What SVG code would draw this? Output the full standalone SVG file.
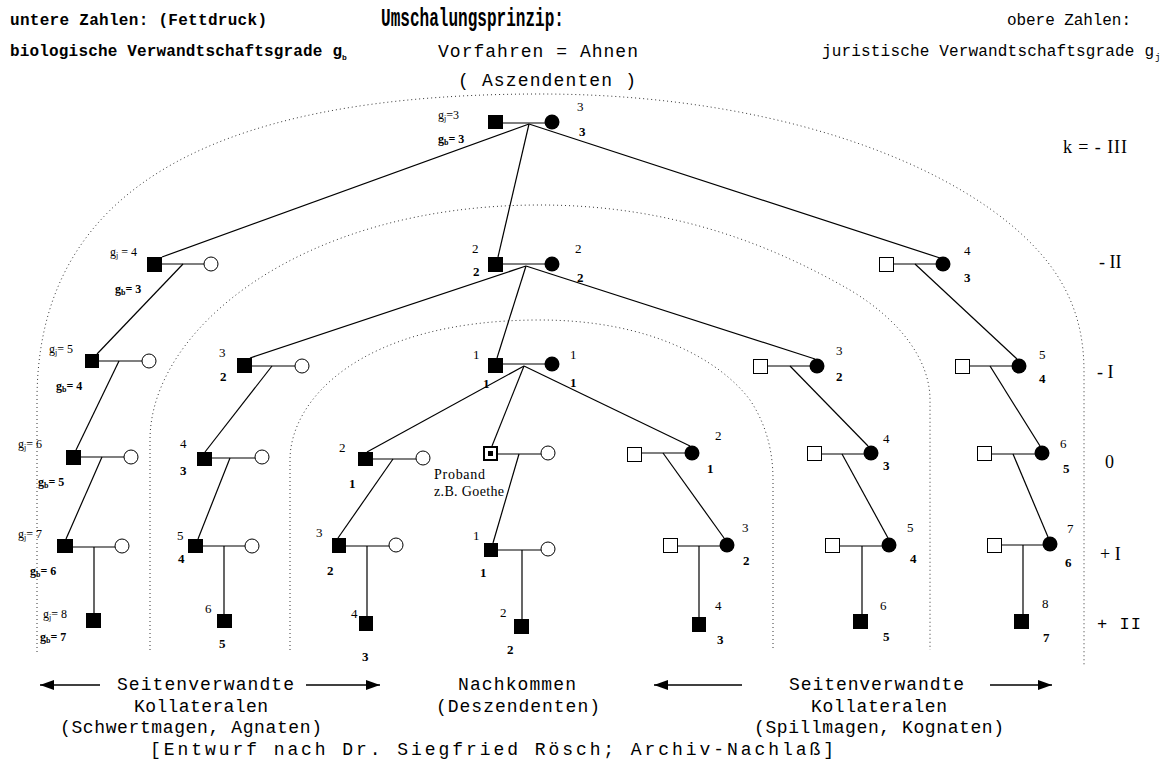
<svg xmlns="http://www.w3.org/2000/svg" width="1168" height="764" viewBox="0 0 1168 764">
<style>
  .ln{stroke:#000;stroke-width:1.2;fill:none}
  .ar{stroke:#000;stroke-width:1.6;fill:none}
  .dot{stroke:#333;stroke-width:1;stroke-dasharray:1 3;fill:none}
  .f{fill:#000}
  .o{fill:#fff;stroke:#000;stroke-width:1}
  .n{font-family:"Liberation Serif","Times New Roman",serif;font-size:13px;fill:#000}
  .g{font-size:12px}
  .b{font-weight:bold}
  .sub{font-size:8px}
  .m{font-family:"Liberation Mono","Courier New",monospace;font-size:16px;fill:#000}
  .mb{font-weight:bold}
  .big{font-size:18px}
  .lv{font-family:"Liberation Serif","Times New Roman",serif;font-size:18px;fill:#000}
</style>
<defs>
  <marker id="head" viewBox="0 0 14 10" refX="14" refY="5" markerWidth="14" markerHeight="10" markerUnits="userSpaceOnUse" orient="auto">
    <path d="M0,0 L14,5 L0,10 z" fill="#000"/>
  </marker>
</defs>
<rect width="1168" height="764" fill="#fff"/>

<!-- header -->
<g id="header">
  <text class="m mb" x="10" y="25" textLength="257">untere Zahlen: (Fettdruck)</text>
  <text class="m mb" x="10" y="56" textLength="332">biologische Verwandtschaftsgrade g</text>
  <text class="m mb" x="342" y="60" style="font-size:8px">b</text>
  <text class="m mb" x="381" y="26" style="font-size:25px" textLength="183" lengthAdjust="spacingAndGlyphs">Umschalungsprinzip:</text>
  <text class="m" x="1007" y="25" textLength="124">obere Zahlen:</text>
  <text class="m" x="822" y="56" textLength="332">juristische Verwandtschaftsgrade g</text>
  <text class="m" x="1155" y="60" style="font-size:9px">j</text>
  <text class="m big" x="438" y="57" textLength="200">Vorfahren = Ahnen</text>
  <text class="m big" x="458" y="86" textLength="178">( Aszendenten )</text>
</g>

<!-- dotted zone boundaries -->
<g id="zones">
  <path class="dot" d="M37,652 V400 C37,230 150,94 540,94 C800,94 1000,180 1060,280 C1078,310 1084,340 1084,372 V667"/>
  <path class="dot" d="M150,650 V440 C150,330 300,205 540,205 C680,205 780,250 850,290 C900,320 930,360 930,400 V650"/>
  <path class="dot" d="M290,650 V460 C290,400 360,320 540,320 C650,320 720,360 750,400 C770,430 773,460 773,480 V650"/>
</g>

<!-- generation labels -->
<g id="levels">
  <text class="lv" x="1063" y="153" textLength="64">k = - III</text>
  <text class="lv" x="1099" y="268">- II</text>
  <text class="lv" x="1097" y="378">- I</text>
  <text class="lv" x="1105" y="468">0</text>
  <text class="lv" x="1100" y="560">+ I</text>
  <text class="m" x="1097" y="629" style="font-size:17px" textLength="44">+ II</text>
</g>

<!-- descent lines -->
<g id="connectors">
  <line class="ln" x1="529" y1="124" x2="162" y2="257"/>
  <line class="ln" x1="529" y1="124" x2="498" y2="257"/>
  <line class="ln" x1="529" y1="124" x2="940" y2="258"/>
  <line class="ln" x1="183" y1="264" x2="97" y2="354"/>
  <line class="ln" x1="526" y1="266" x2="250" y2="358"/>
  <line class="ln" x1="526" y1="266" x2="497" y2="358"/>
  <line class="ln" x1="526" y1="266" x2="815" y2="359"/>
  <line class="ln" x1="915" y1="264" x2="1017" y2="359"/>
  <line class="ln" x1="119" y1="361" x2="76" y2="450"/>
  <line class="ln" x1="272" y1="366" x2="205" y2="452"/>
  <line class="ln" x1="524" y1="366" x2="367" y2="452"/>
  <line class="ln" x1="524" y1="366" x2="492" y2="446"/>
  <line class="ln" x1="524" y1="366" x2="690" y2="446"/>
  <line class="ln" x1="790" y1="366" x2="868" y2="446"/>
  <line class="ln" x1="990" y1="366" x2="1040" y2="446"/>
  <line class="ln" x1="102" y1="457" x2="66" y2="539"/>
  <line class="ln" x1="230" y1="458" x2="198" y2="539"/>
  <line class="ln" x1="393" y1="459" x2="338" y2="538"/>
  <line class="ln" x1="519" y1="454" x2="493" y2="543"/>
  <line class="ln" x1="663" y1="453" x2="724" y2="538"/>
  <line class="ln" x1="842" y1="454" x2="888" y2="538"/>
  <line class="ln" x1="1013" y1="454" x2="1048" y2="537"/>
  <line class="ln" x1="94" y1="547" x2="94" y2="613"/>
  <line class="ln" x1="224" y1="546" x2="224" y2="614"/>
  <line class="ln" x1="367" y1="546" x2="367" y2="616"/>
  <line class="ln" x1="522" y1="550" x2="522" y2="619"/>
  <line class="ln" x1="699" y1="546" x2="699" y2="617"/>
  <line class="ln" x1="862" y1="546" x2="862" y2="614"/>
  <line class="ln" x1="1023" y1="545" x2="1023" y2="614"/>
</g>

<!-- generation -III -->
<g id="n-top">
  <rect class="f" x="488" y="115" width="15" height="14"/>
  <line class="ln" x1="503" y1="123" x2="545" y2="123"/>
  <circle class="f" cx="552" cy="122" r="7.5"/>
  <text class="n g" x="438" y="119">g<tspan class="sub" dy="2">j</tspan><tspan dy="-2">=3</tspan></text>
  <text class="n g b" x="438" y="143">g<tspan class="sub" dy="2">b</tspan><tspan dy="-2">= 3</tspan></text>
  <text class="n" x="577" y="111">3</text>
  <text class="n b" x="579" y="136">3</text>
</g>

<!-- generation -II -->
<g id="n-l2">
  <rect class="f" x="147" y="257" width="15" height="15"/>
  <line class="ln" x1="162" y1="264" x2="204" y2="264"/>
  <circle class="o" cx="211" cy="264" r="7"/>
  <text class="n g" x="110" y="256">g<tspan class="sub" dy="2">j</tspan><tspan dy="-2"> = 4</tspan></text>
  <text class="n g b" x="115" y="293">g<tspan class="sub" dy="2">b</tspan><tspan dy="-2">= 3</tspan></text>
</g>
<g id="n-c2">
  <rect class="f" x="488" y="257" width="15" height="15"/>
  <line class="ln" x1="503" y1="264" x2="545" y2="264"/>
  <circle class="f" cx="552" cy="264" r="7.5"/>
  <text class="n" x="472" y="253">2</text>
  <text class="n b" x="473" y="276">2</text>
  <text class="n" x="575" y="253">2</text>
  <text class="n b" x="577" y="282">2</text>
</g>
<g id="n-r2">
  <rect class="o" x="879.5" y="257.5" width="14" height="14"/>
  <line class="ln" x1="894" y1="264" x2="936" y2="264"/>
  <circle class="f" cx="943" cy="264" r="7.5"/>
  <text class="n" x="964" y="255">4</text>
  <text class="n b" x="964" y="282">3</text>
</g>

<!-- generation -I -->
<g id="n-a1">
  <rect class="f" x="85" y="354" width="14" height="14"/>
  <line class="ln" x1="99" y1="361" x2="142" y2="361"/>
  <circle class="o" cx="149" cy="361" r="7"/>
  <text class="n g" x="49" y="353">g<tspan class="sub" dy="2">j</tspan><tspan dy="-2">= 5</tspan></text>
  <text class="n g b" x="56" y="390">g<tspan class="sub" dy="2">b</tspan><tspan dy="-2">= 4</tspan></text>
</g>
<g id="n-b1">
  <rect class="f" x="237" y="358" width="15" height="15"/>
  <line class="ln" x1="252" y1="366" x2="295" y2="366"/>
  <circle class="o" cx="302" cy="366" r="7"/>
  <text class="n" x="219" y="357">3</text>
  <text class="n b" x="220" y="381">2</text>
</g>
<g id="n-c1">
  <rect class="f" x="488" y="358" width="15" height="15"/>
  <line class="ln" x1="503" y1="364" x2="545" y2="364"/>
  <circle class="f" cx="552" cy="364" r="7.5"/>
  <text class="n" x="473" y="359">1</text>
  <text class="n" x="570" y="359">1</text>
  <text class="n b" x="483" y="388">1</text>
  <text class="n b" x="570" y="387">1</text>
</g>
<g id="n-d1">
  <rect class="o" x="753.5" y="359.5" width="14" height="14"/>
  <line class="ln" x1="768" y1="366" x2="810" y2="366"/>
  <circle class="f" cx="817" cy="366" r="7.5"/>
  <text class="n" x="836" y="355">3</text>
  <text class="n b" x="836" y="381">2</text>
</g>
<g id="n-e1">
  <rect class="o" x="955.5" y="359.5" width="14" height="14"/>
  <line class="ln" x1="970" y1="366" x2="1012" y2="366"/>
  <circle class="f" cx="1019" cy="366" r="7.5"/>
  <text class="n" x="1039" y="359">5</text>
  <text class="n b" x="1039" y="383">4</text>
</g>

<!-- generation 0 -->
<g id="n-a0">
  <rect class="f" x="66" y="450" width="15" height="15"/>
  <line class="ln" x1="81" y1="457" x2="124" y2="457"/>
  <circle class="o" cx="131" cy="457" r="7"/>
  <text class="n g" x="18" y="448">g<tspan class="sub" dy="2">j</tspan><tspan dy="-2">= 6</tspan></text>
  <text class="n g b" x="38" y="486">g<tspan class="sub" dy="2">b</tspan><tspan dy="-2">= 5</tspan></text>
</g>
<g id="n-b0">
  <rect class="f" x="197" y="452" width="15" height="14"/>
  <line class="ln" x1="212" y1="458" x2="255" y2="458"/>
  <circle class="o" cx="262" cy="457" r="7"/>
  <text class="n" x="180" y="448">4</text>
  <text class="n b" x="180" y="475">3</text>
</g>
<g id="n-c0">
  <rect class="f" x="358" y="452" width="15" height="14"/>
  <line class="ln" x1="373" y1="459" x2="416" y2="459"/>
  <circle class="o" cx="423" cy="458" r="7"/>
  <text class="n" x="339" y="452">2</text>
  <text class="n b" x="349" y="488">1</text>
</g>
<g id="n-proband">
  <rect x="484" y="447" width="13" height="13" fill="#fff" stroke="#000" stroke-width="2"/>
  <rect class="f" x="488" y="451" width="5" height="5"/>
  <line class="ln" x1="498" y1="454" x2="541" y2="454"/>
  <circle class="o" cx="548" cy="453" r="7"/>
  <text class="n" x="434" y="479" style="font-size:14px" textLength="51">Proband</text>
  <text class="n" x="434" y="496" style="font-size:14px" textLength="70">z.B. Goethe</text>
</g>
<g id="n-d0a">
  <rect class="o" x="627.5" y="447.5" width="14" height="14"/>
  <line class="ln" x1="642" y1="453" x2="685" y2="453"/>
  <circle class="f" cx="692" cy="453" r="7.5"/>
  <text class="n" x="715" y="440">2</text>
  <text class="n b" x="707" y="473">1</text>
</g>
<g id="n-d0">
  <rect class="o" x="807.5" y="446.5" width="14" height="14"/>
  <line class="ln" x1="822" y1="454" x2="864" y2="454"/>
  <circle class="f" cx="871" cy="453" r="7.5"/>
  <text class="n" x="883" y="443">4</text>
  <text class="n b" x="883" y="470">3</text>
</g>
<g id="n-e0">
  <rect class="o" x="977.5" y="446.5" width="14" height="14"/>
  <line class="ln" x1="992" y1="454" x2="1035" y2="454"/>
  <circle class="f" cx="1042" cy="453" r="7.5"/>
  <text class="n" x="1060" y="448">6</text>
  <text class="n b" x="1063" y="473">5</text>
</g>

<!-- generation +I -->
<g id="n-a3">
  <rect class="f" x="57" y="539" width="16" height="14"/>
  <line class="ln" x1="73" y1="547" x2="115" y2="547"/>
  <circle class="o" cx="122" cy="546" r="7"/>
  <text class="n g" x="18" y="538">g<tspan class="sub" dy="2">j</tspan><tspan dy="-2">= 7</tspan></text>
  <text class="n g b" x="30" y="575">g<tspan class="sub" dy="2">b</tspan><tspan dy="-2">= 6</tspan></text>
</g>
<g id="n-b3">
  <rect class="f" x="188" y="539" width="15" height="14"/>
  <line class="ln" x1="203" y1="546" x2="245" y2="546"/>
  <circle class="o" cx="252" cy="546" r="7"/>
  <text class="n" x="177" y="540">5</text>
  <text class="n b" x="178" y="563">4</text>
</g>
<g id="n-c3">
  <rect class="f" x="332" y="538" width="14" height="15"/>
  <line class="ln" x1="346" y1="546" x2="389" y2="546"/>
  <circle class="o" cx="396" cy="545" r="7"/>
  <text class="n" x="316" y="537">3</text>
  <text class="n b" x="327" y="575">2</text>
</g>
<g id="n-p3">
  <rect class="f" x="484" y="543" width="14" height="14"/>
  <line class="ln" x1="498" y1="550" x2="541" y2="550"/>
  <circle class="o" cx="548" cy="549" r="7"/>
  <text class="n" x="473" y="540">1</text>
  <text class="n b" x="480" y="577">1</text>
</g>
<g id="n-d3a">
  <rect class="o" x="663.5" y="538.5" width="14" height="14"/>
  <line class="ln" x1="678" y1="546" x2="720" y2="546"/>
  <circle class="f" cx="727" cy="545" r="7.5"/>
  <text class="n" x="742" y="532">3</text>
  <text class="n b" x="743" y="565">2</text>
</g>
<g id="n-d3">
  <rect class="o" x="825.5" y="538.5" width="14" height="14"/>
  <line class="ln" x1="840" y1="546" x2="882" y2="546"/>
  <circle class="f" cx="889" cy="545" r="7.5"/>
  <text class="n" x="907" y="532">5</text>
  <text class="n b" x="910" y="563">4</text>
</g>
<g id="n-e3">
  <rect class="o" x="987.5" y="538.5" width="14" height="14"/>
  <line class="ln" x1="1002" y1="545" x2="1043" y2="545"/>
  <circle class="f" cx="1050" cy="544" r="7.5"/>
  <text class="n" x="1067" y="533">7</text>
  <text class="n b" x="1065" y="567">6</text>
</g>

<!-- generation +II -->
<g id="n-a4">
  <rect class="f" x="86" y="613" width="15" height="15"/>
  <text class="n g" x="43" y="618">g<tspan class="sub" dy="2">j</tspan><tspan dy="-2">= 8</tspan></text>
  <text class="n g b" x="40" y="641">g<tspan class="sub" dy="2">b</tspan><tspan dy="-2">= 7</tspan></text>
</g>
<g id="n-b4">
  <rect class="f" x="217" y="614" width="15" height="14"/>
  <text class="n" x="205" y="613">6</text>
  <text class="n b" x="219" y="648">5</text>
</g>
<g id="n-c4">
  <rect class="f" x="359" y="616" width="14" height="15"/>
  <text class="n" x="351" y="618">4</text>
  <text class="n b" x="362" y="661">3</text>
</g>
<g id="n-p4">
  <rect class="f" x="514" y="619" width="15" height="15"/>
  <text class="n" x="500" y="617">2</text>
  <text class="n b" x="507" y="654">2</text>
</g>
<g id="n-d4a">
  <rect class="f" x="692" y="617" width="14" height="15"/>
  <text class="n" x="715" y="610">4</text>
  <text class="n b" x="717" y="644">3</text>
</g>
<g id="n-d4">
  <rect class="f" x="853" y="614" width="15" height="15"/>
  <text class="n" x="880" y="610">6</text>
  <text class="n b" x="883" y="641">5</text>
</g>
<g id="n-e4">
  <rect class="f" x="1014" y="614" width="15" height="15"/>
  <text class="n" x="1042" y="608">8</text>
  <text class="n b" x="1043" y="642">7</text>
</g>

<!-- bottom legend -->
<g id="legend">
  <line class="ar" x1="100" y1="685" x2="40" y2="685" marker-end="url(#head)"/>
  <line class="ar" x1="306" y1="685" x2="380" y2="685" marker-end="url(#head)"/>
  <text class="m big" x="117" y="690" textLength="177">Seitenverwandte</text>
  <text class="m big" x="134" y="712" textLength="134">Kollateralen</text>
  <text class="m big" x="60" y="733" textLength="262">(Schwertmagen, Agnaten)</text>
  <text class="m big" x="458" y="690" textLength="118">Nachkommen</text>
  <text class="m big" x="436" y="712" textLength="164">(Deszendenten)</text>
  <line class="ar" x1="742" y1="685" x2="654" y2="685" marker-end="url(#head)"/>
  <line class="ar" x1="990" y1="685" x2="1052" y2="685" marker-end="url(#head)"/>
  <text class="m big" x="789" y="690" textLength="175">Seitenverwandte</text>
  <text class="m big" x="811" y="712" textLength="136">Kollateralen</text>
  <text class="m big" x="754" y="733" textLength="250">(Spillmagen, Kognaten)</text>
  <text class="m big" x="150" y="755" textLength="684">[Entwurf nach Dr. Siegfried Rösch; Archiv-Nachlaß]</text>
</g>
</svg>
